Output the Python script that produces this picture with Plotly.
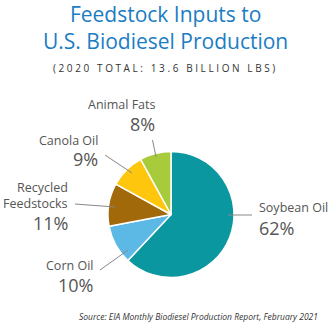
import plotly.graph_objects as go

categories = ["Soybean Oil", "Corn Oil", "Recycled Feedstocks", "Canola Oil", "Animal Fats"]
values = [62, 10, 11, 9, 8]
colors = ["#0A97A0", "#5CB8E4", "#A2690B", "#FEC60C", "#A8CB3B"]

W = H = 330
def px(x): return x / W
def py(y): return 1 - y / H

fig = go.Figure(go.Pie(
    labels=categories, values=values, sort=False, direction="clockwise", rotation=0,
    marker=dict(colors=colors, line=dict(color="white", width=1.5)),
    textinfo="none", hoverinfo="label+percent", showlegend=False,
    domain=dict(x=[px(108), px(234)], y=[py(277.5), py(151.5)]),
))

lab = dict(family="Open Sans, Lato, sans-serif", color="#555555")
ann = []
def add(text, x, y, size, xanchor="center"):
    ann.append(dict(text=text, x=px(x), y=py(y), xref="paper", yref="paper", showarrow=False,
                    xanchor=xanchor, yanchor="middle", font=dict(size=size, **lab)))

# title
ann.append(dict(text="Feedstock Inputs to<br>U.S. Biodiesel Production", x=0.5, y=py(27.5),
                xref="paper", yref="paper", showarrow=False, borderpad=0,
                font=dict(family="Open Sans, sans-serif", size=21, color="#1B7DC3", weight=500),
                yanchor="middle"))
ann.append(dict(text='<span style="letter-spacing:2.6px">(2020 TOTAL: 13.6 BILLION LBS)</span>',
                x=0.5, y=py(68), xref="paper", yref="paper", showarrow=False,
                font=dict(family="Open Sans, sans-serif", size=10, color="#333333"), yanchor="middle"))

pct = [f"{v}%" for v in values]
# Soybean
add(categories[0], 257, 207, 12.5, "left"); add(pct[0], 257, 228, 18, "left")
# Corn
add("Corn Oil", 95, 265, 12.5, "right"); add(pct[1], 95, 285, 18, "right")
# Recycled
add("Recycled", 70, 187, 12.5, "right"); add("Feedstocks", 70, 203, 12.5, "right"); add(pct[2], 70, 223, 18, "right")
# Canola
add(categories[3], 100, 140, 12.5, "right"); add(pct[3], 100, 159, 18, "right")
# Animal Fats
add(categories[4], 157, 105, 12.5, "right"); add(pct[4], 157, 124, 18, "right")

ann.append(dict(text="<i>Source: EIA Monthly Biodiesel Production Report, February 2021</i>",
                x=px(320), y=py(316), xref="paper", yref="paper", showarrow=False, xanchor="right",
                yanchor="middle", font=dict(family="Open Sans, sans-serif", size=8.5, color="#333333")))

lines = [((228, 215), (252, 215)), ((100, 270), (128, 250)), ((75, 204), (115, 207)),
         ((105, 155), (132, 173)), ((152.5, 140), (156, 157))]
shapes = [dict(type="line", xref="paper", yref="paper", x0=px(a[0]), y0=py(a[1]), x1=px(b[0]), y1=py(b[1]),
               line=dict(color="#888888", width=1)) for a, b in lines]

fig.update_layout(width=W, height=H, margin=dict(l=0, r=0, t=0, b=0), paper_bgcolor="white",
                  plot_bgcolor="white", annotations=ann, shapes=shapes)
fig.write_html("out.html")
